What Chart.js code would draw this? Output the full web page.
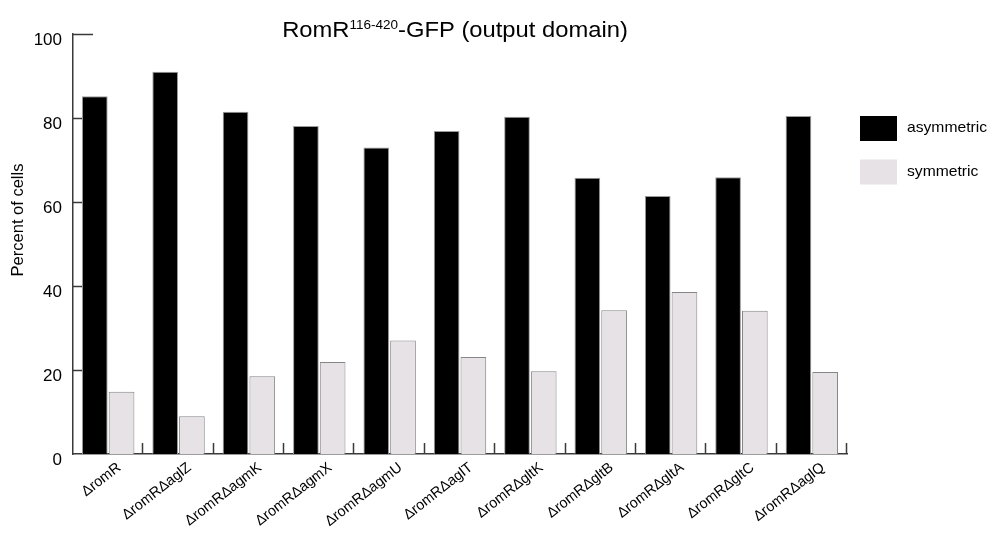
<!DOCTYPE html>
<html>
<head>
<meta charset="utf-8">
<script src="https://cdn.jsdelivr.net/npm/chart.js@4/dist/chart.umd.min.js"></script>
<style>
  html, body { margin: 0; padding: 0; background: #ffffff; }
  #wrap { width: 991px; height: 536px; position: relative; }
</style>
</head>
<body>
<div id="wrap"><canvas id="chart" width="991" height="536"></canvas></div>
<script>
// Strains (RomR output-domain GFP fusion in each background)
const categories = [
  'ΔromR', 'ΔromRΔaglZ', 'ΔromRΔagmK', 'ΔromRΔagmX', 'ΔromRΔagmU',
  'ΔromRΔaglT', 'ΔromRΔgltK', 'ΔromRΔgltB', 'ΔromRΔgltA', 'ΔromRΔgltC', 'ΔromRΔaglQ'
];
// Percent of cells with asymmetric / symmetric localization
const asymmetric = [85.2, 91.0, 81.5, 78.1, 73.0, 76.9, 80.3, 65.8, 61.4, 65.9, 80.5];
const symmetric  = [14.8,  9.0, 18.5, 21.9, 27.0, 23.1, 19.7, 34.2, 38.6, 34.1, 19.5];
const yTicks = [0, 20, 40, 60, 80, 100];

const FONT = '"Liberation Sans", Arial, Helvetica, sans-serif';
const AXIS_COLOR = '#3a3a3a';
const STRETCH = 1.08; // slightly wide lettering

function stretchedText(ctx, text, x, y, font, align, baseline) {
  ctx.save();
  ctx.font = font;
  ctx.textAlign = align || 'left';
  ctx.textBaseline = baseline || 'alphabetic';
  ctx.translate(x, y);
  ctx.scale(STRETCH, 1);
  ctx.fillText(text, 0, 0);
  ctx.restore();
}

// Title with superscript residue range
const titlePlugin = {
  id: 'titleWithSup',
  afterDraw(chart) {
    const ctx = chart.ctx;
    const area = chart.chartArea;
    const big = '22px ' + FONT, small = '12.5px ' + FONT;
    const parts = [
      { t: 'RomR', f: big, dy: 0 },
      { t: '116-420', f: small, dy: -8 },
      { t: '-GFP (output domain)', f: big, dy: 0 }
    ];
    let total = 0;
    parts.forEach(p => { ctx.font = p.f; p.w = ctx.measureText(p.t).width * STRETCH; total += p.w; });
    let x = (area.left + area.right) / 2 - 5 - total / 2;
    const baseY = area.top + 3;
    ctx.fillStyle = '#000';
    parts.forEach(p => { stretchedText(ctx, p.t, x, baseY + p.dy, p.f); x += p.w; });
  }
};

// Inward tick marks on both axes, and rotated y-axis title
const axisDecor = {
  id: 'axisDecor',
  afterDatasetsDraw(chart) {
    const ctx = chart.ctx;
    const xs = chart.scales.x, ys = chart.scales.y;
    ctx.save();
    ctx.strokeStyle = AXIS_COLOR;
    ctx.lineWidth = 1.5;
    ctx.beginPath();
    yTicks.forEach(v => {
      if (v === 0) return;
      const py = Math.round(ys.getPixelForValue(v)) + 0.5;
      const len = v === ys.max ? 20 : 9;
      ctx.moveTo(xs.left, py);
      ctx.lineTo(xs.left + len, py);
    });
    const n = categories.length;
    const step = (xs.right - xs.left) / n;
    for (let i = 1; i <= n; i++) {
      const px = Math.round(xs.left + i * step) - 0.5;
      ctx.moveTo(px, ys.bottom);
      ctx.lineTo(px, ys.bottom - 11);
    }
    ctx.stroke();
    ctx.restore();

    // y-axis title
    ctx.save();
    ctx.fillStyle = '#000';
    ctx.font = '16.5px ' + FONT;
    ctx.translate(ys.left + 18, (ys.top + ys.bottom) / 2 - 24);
    ctx.rotate(-Math.PI / 2);
    ctx.textAlign = 'center';
    ctx.textBaseline = 'middle';
    ctx.fillText('Percent of cells', 0, 0);
    ctx.restore();
  }
};

// Legend boxes at the right of the plot
const sideLegend = {
  id: 'sideLegend',
  afterDraw(chart) {
    const ctx = chart.ctx;
    const area = chart.chartArea;
    const bx = area.right + 13;
    chart.data.datasets.forEach((ds, i) => {
      const by = area.top + 82 + i * 43.5;
      ctx.fillStyle = ds.backgroundColor;
      ctx.fillRect(bx, by, 37, 25);
      ctx.fillStyle = '#000';
      stretchedText(ctx, ds.label, bx + 47, by + 12, '14.5px ' + FONT, 'left', 'middle');
    });
  }
};

new Chart(document.getElementById('chart'), {
  type: 'bar',
  data: {
    labels: categories,
    datasets: [
      {
        label: 'asymmetric',
        data: asymmetric,
        backgroundColor: '#000000',
        borderColor: '#9a9a9a',
        borderWidth: 1,
        borderSkipped: 'bottom',
        categoryPercentage: 0.76,
        barPercentage: 0.96
      },
      {
        label: 'symmetric',
        data: symmetric,
        backgroundColor: '#e6e2e6',
        borderColor: '#858585',
        borderWidth: 1,
        borderSkipped: 'bottom',
        categoryPercentage: 0.76,
        barPercentage: 0.96
      }
    ]
  },
  options: {
    responsive: false,
    animation: false,
    devicePixelRatio: 1,
    layout: { padding: { top: 34, right: 144, bottom: 0, left: 0 } },
    plugins: {
      legend: { display: false },
      title: { display: false },
      tooltip: { enabled: false }
    },
    scales: {
      x: {
        grid: { display: false, drawTicks: false },
        border: { display: true, color: AXIS_COLOR, width: 1.5 },
        ticks: {
          color: '#000',
          font: { family: FONT, size: 14.5 },
          minRotation: 38,
          maxRotation: 38,
          padding: 5,
          labelOffset: 11,
          autoSkip: false
        },
        afterFit(scale) { scale.height = 82; }
      },
      y: {
        min: 0,
        max: 100,
        grid: { display: false, drawTicks: false },
        border: { display: true, color: AXIS_COLOR, width: 1.5 },
        ticks: {
          color: '#000',
          font: { family: FONT, size: 17 },
          stepSize: 20,
          padding: 11,
          labelOffset: 6
        },
        afterFit(scale) { scale.width = 73; }
      }
    }
  },
  plugins: [axisDecor, titlePlugin, sideLegend]
});
</script>
</body>
</html>
